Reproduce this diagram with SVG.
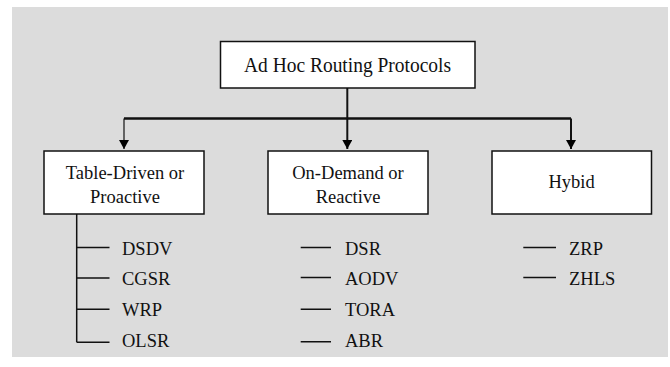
<svg xmlns="http://www.w3.org/2000/svg" width="670" height="367" viewBox="0 0 670 367">
<defs>
<marker id="arr" markerUnits="userSpaceOnUse" markerWidth="10" markerHeight="10" refX="5" refY="9" orient="0" viewBox="0 0 10 10">
<path d="M0,0 L10,0 L5,9 Z" fill="#000"/>
</marker>
</defs>
<style>
.box{fill:#fff;stroke:#111;stroke-width:1.5}
.t{font-family:'Liberation Serif','DejaVu Serif',serif;font-size:18.5px;fill:#111}
.c{text-anchor:middle}
.ln{stroke:#111;fill:none}
</style>
<rect x="12" y="7" width="656" height="350" fill="#dcdcdc"/>
<g id="connectors">
<path class="ln" d="M347.3 88 V149" stroke-width="2" marker-end="url(#arr)"/>
<path class="ln" d="M124 118.5 H571" stroke-width="2.5"/>
<path class="ln" d="M124 118.5 V149" stroke-width="1.2" marker-end="url(#arr)"/>
<path class="ln" d="M571 118.5 V149" stroke-width="2" marker-end="url(#arr)"/>
<path class="ln" stroke-width="1.5" d="M76.7 214 V342.3 M76.7 247.5 H109.5 M76.7 278 H109.5 M76.7 309.3 H109.5 M76.7 342.3 H109.5"/>
<path class="ln" stroke-width="1.5" d="M300.7 247.5 H331 M300.7 277.5 H331 M300.7 309.3 H331 M300.7 341.7 H331"/>
<path class="ln" stroke-width="1.5" d="M523.3 247.5 H556 M523.3 277.5 H556"/>
</g>
<g id="root">
<rect class="box" x="220.5" y="41.5" width="254.5" height="46.5"/>
<text class="t c" x="347.5" y="72" font-family="Liberation Serif, serif" style="font-size:20px" textLength="207" lengthAdjust="spacingAndGlyphs">Ad Hoc Routing Protocols</text>
</g>
<g id="proactive">
<rect class="box" x="44" y="151" width="160" height="63"/>
<text class="t c" x="125" y="179">Table-Driven or</text>
<text class="t c" x="125" y="202.5">Proactive</text>
</g>
<g id="reactive">
<rect class="box" x="268" y="151" width="160" height="63"/>
<text class="t c" x="348" y="178.5">On-Demand or</text>
<text class="t c" x="348" y="203">Reactive</text>
</g>
<g id="hybrid">
<rect class="box" x="492" y="151" width="159.5" height="63"/>
<text class="t c" x="571.5" y="187.5">Hybid</text>
</g>
<g id="proactive-list">
<text class="t" x="122" y="254.5">DSDV</text>
<text class="t" x="122" y="285">CGSR</text>
<text class="t" x="122" y="316">WRP</text>
<text class="t" x="122" y="347">OLSR</text>
</g>
<g id="reactive-list">
<text class="t" x="345" y="254.5">DSR</text>
<text class="t" x="345" y="285">AODV</text>
<text class="t" x="345" y="316">TORA</text>
<text class="t" x="345" y="347">ABR</text>
</g>
<g id="hybrid-list">
<text class="t" x="569" y="254.5">ZRP</text>
<text class="t" x="569" y="285">ZHLS</text>
</g>
</svg>
